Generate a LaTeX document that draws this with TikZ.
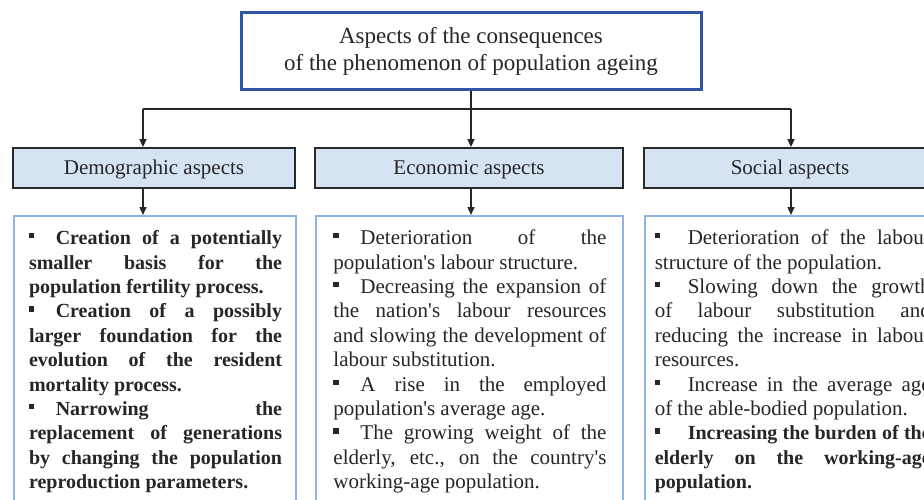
\documentclass[tikz,border=0pt]{standalone}
\usepackage{fontspec}
\setmainfont{Liberation Serif}
\usetikzlibrary{arrows.meta}
\definecolor{titleblue}{HTML}{2F55A4}
\definecolor{hdrfill}{HTML}{D5E3F3}
\definecolor{hdrline}{HTML}{2A2A2A}
\definecolor{boxblue}{HTML}{8DB4E2}
\definecolor{ink}{HTML}{262626}
\newlength\tw
\newcommand\lstrut{\rule[-7.4pt]{0pt}{24.4pt}}
\newcommand\bul[1]{\makebox[#1][l]{\rule[6.3pt]{5.2pt}{5.2pt}}}
\newcommand\jline[1]{\hbox to \tw{\lstrut #1}}
\newcommand\lline[1]{\hbox to \tw{\lstrut #1\hfil}}
\newcommand\apo{\textquotesingle}
\newcommand\cbody[4]{\vbox to 300pt{\kern12pt\hbox to #1{\kern#2\vtop{\offinterlineskip\setlength\tw{#3}#4}\hss}\vss}}
\tikzset{
  titlebox/.style={draw=titleblue, line width=3pt, fill=white, align=center,
    minimum width=460pt, minimum height=77pt, inner sep=0pt, text=ink,
    font=\fontsize{23}{27}\selectfont},
  hdrbox/.style={draw=hdrline, line width=1.8pt, fill=hdrfill, minimum height=40pt,
    inner sep=0pt, text height=14pt, text depth=0pt, text=ink,
    font=\fontsize{21}{24}\selectfont},
  contentbox/.style={draw=boxblue, line width=1.5pt, fill=white, anchor=north west,
    inner sep=0pt, minimum height=300pt, text=ink,
    font=\fontsize{21}{24.4}\selectfont},
  conn/.style={draw=ink, line width=1.4pt},
  arr/.style={conn, -{Triangle[length=8pt,width=7pt]}}
}
\begin{document}
\begin{tikzpicture}[x=1pt,y=-1pt]
\useasboundingbox (0,0) rectangle (924,500);
\clip (0,0) rectangle (924,500);
\fill[white] (0,0) rectangle (924,500);

\node[titlebox] (top) at (471,51.3) {Aspects of the consequences\\of the phenomenon of population ageing};

\node[hdrbox, minimum width=282pt] (dem) at (154,168) {Demographic aspects};
\node[hdrbox, minimum width=308pt] (eco) at (469,168) {Economic aspects};
\node[hdrbox, minimum width=292pt] (soc) at (790,168) {Social aspects};

\coordinate (jl) at (143,109);
\coordinate (jr) at (791,109);
\coordinate (jm) at (top.south |- jl);

\draw[conn] (top.south) -- (jm);
\draw[conn] (jl) -- (jr);
\draw[arr] (jl) -- (jl |- dem.north);
\draw[arr] (jm) -- (jm |- eco.north);
\draw[arr] (jr) -- (jr |- soc.north);

\node[contentbox, minimum width=282pt] (demc) at (13,215) {\cbody{282pt}{15.3pt}{253pt}{\bfseries\fontsize{20}{24.4}\selectfont
\jline{\bul{26.7pt}Creation of a potentially}
\jline{smaller basis for the}
\lline{population fertility process.}
\jline{\bul{26.7pt}Creation of a possibly}
\jline{larger foundation for the}
\jline{evolution of the resident}
\lline{mortality process.}
\jline{\bul{26.7pt}Narrowing the}
\jline{replacement of generations}
\jline{by changing the population}
\lline{reproduction parameters.}}};

\node[contentbox, minimum width=307pt] (ecoc) at (315,215) {\cbody{307pt}{17.7pt}{273pt}{%
\jline{\bul{27pt}Deterioration of the}
\lline{population\apo s labour structure.}
\jline{\bul{27pt}Decreasing the expansion of}
\jline{the nation\apo s labour resources}
\jline{and slowing the development of}
\lline{labour substitution.}
\jline{\bul{27pt}A rise in the employed}
\lline{population\apo s average age.}
\jline{\bul{27pt}The growing weight of the}
\jline{elderly, etc., on the country\apo s}
\lline{working-age population.}}};

\node[contentbox, minimum width=292pt] (socc) at (644,215) {\cbody{292pt}{10pt}{276pt}{%
\jline{\bul{33pt}Deterioration of the labour}
\lline{structure of the population.}
\jline{\bul{33pt}Slowing down the growth}
\jline{of labour substitution and}
\jline{reducing the increase in labour}
\lline{resources.}
\jline{\bul{33pt}Increase in the average age}
\lline{of the able-bodied population.}
\bfseries\fontsize{20}{24.4}\selectfont
\jline{\bul{33pt}Increasing the burden of the}
\jline{elderly on the working-age}
\lline{population.}}};

\draw[arr] (jl |- dem.south) -- (jl |- demc.north);
\draw[arr] (jm |- eco.south) -- (jm |- ecoc.north);
\draw[arr] (jr |- soc.south) -- (jr |- socc.north);
\end{tikzpicture}
\end{document}
